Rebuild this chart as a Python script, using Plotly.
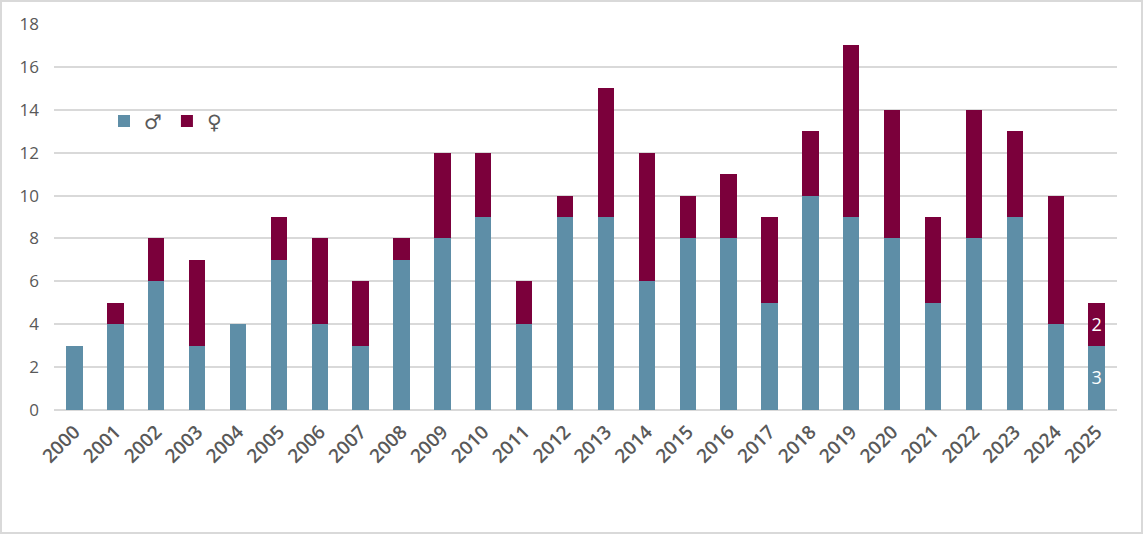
import plotly.graph_objects as go

years = [str(y) for y in range(2000, 2026)]
male = [3, 4, 6, 3, 4, 7, 4, 3, 7, 8, 9, 4, 9, 9, 6, 8, 8, 5, 10, 9, 8, 5, 8, 9, 4, 3]
female = [0, 1, 2, 4, 0, 2, 4, 3, 1, 4, 3, 2, 1, 6, 6, 2, 3, 4, 3, 8, 6, 4, 6, 4, 6, 2]
y_ticks = [0, 2, 4, 6, 8, 10, 12, 14, 16, 18]

W, H = 1143, 534
L, R, T, B = 54, 26, 24, 124

male_text = [""] * (len(years) - 1) + [str(male[-1])]
female_text = [""] * (len(years) - 1) + [str(female[-1])]

fig = go.Figure()
fig.add_trace(go.Bar(x=years, y=male, name="♂", marker=dict(color="#5e8ea7", line=dict(width=0)),
                     text=male_text, textposition="inside", insidetextanchor="middle",
                     textfont=dict(color="white", size=19, family="Open Sans"), textangle=0))
fig.add_trace(go.Bar(x=years, y=female, name="♀", marker=dict(color="#7b003b", line=dict(width=0)),
                     text=female_text, textposition="inside", insidetextanchor="middle",
                     textfont=dict(color="white", size=19, family="Open Sans"), textangle=0))

pw = W - L - R
ph = H - T - B
fig.add_shape(type="rect", xref="paper", yref="paper",
              x0=(1 - L) / pw, x1=(W - 1 - L) / pw,
              y0=-(H - 1 - T - ph) / ph, y1=1 + (T - 1) / ph,
              line=dict(color="#d9d9d9", width=2), layer="below")

fig.update_layout(
    width=W, height=H,
    margin=dict(l=L, r=R, t=T, b=B, pad=0),
    barmode="stack", bargap=0.6,
    plot_bgcolor="white", paper_bgcolor="white",
    font=dict(family="Open Sans", color="#595959", size=16),
    showlegend=True,
    legend=dict(orientation="h", x=(104 - L) / pw, y=(410 - 121) / ph, xanchor="left", yanchor="middle",
                font=dict(size=20, family="DejaVu Sans", color="#595959", weight="bold"),
                bgcolor="rgba(0,0,0,0)", itemwidth=30, traceorder="normal"),
    xaxis=dict(type="category", tickangle=-45, showgrid=False, showline=False, ticks="",
               tickfont=dict(size=19, color="#595959", weight=600), fixedrange=True,
               ticklabelstandoff=6),
    yaxis=dict(range=[0, 18], tickvals=y_ticks, showgrid=True, gridcolor="#d9d9d9", gridwidth=1.5,
               zeroline=True, zerolinecolor="#d9d9d9", zerolinewidth=1.5, showline=False, ticks="",
               tickfont=dict(size=17, color="#595959"), ticklabelstandoff=14),
)

fig.write_html("out.html", config={"displayModeBar": False},
               post_script="document.body.style.margin='0';document.body.style.padding='0';")
